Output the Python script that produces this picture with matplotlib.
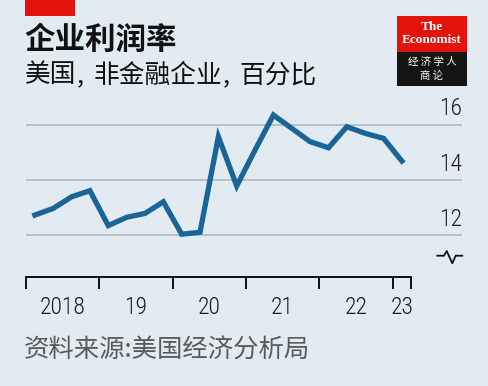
#!/usr/bin/env python3
import numpy as np
import matplotlib
matplotlib.use('Agg')
import matplotlib.pyplot as plt
import matplotlib.patches as mplpatches
from matplotlib.lines import Line2D

'''
US non-financial corporate profit margin, quarterly, per cent
'''

# quarterly values, 2018 Q1 .. 2023 Q1
years = [2018, 2019, 2020, 2021, 2022, 2023]
quarters_per_year = 4
margin = [12.73, 12.97, 13.39, 13.61, 12.35, 12.65, 12.79, 13.21, 12.04, 12.11,
          15.56, 13.78, 15.08, 16.34, 15.86, 15.38, 15.16, 15.92, 15.68, 15.50,
          14.68]
y_ticks = [12, 14, 16]
x_labels = ['2018', '19', '20', '21', '22', '23']

title = '企业利润率'
subtitle = '美国,非金融企业,百分比'
source = '资料来源:美国经济分析局'

bg = '#e1ebf1'
blue = '#1b6498'
grid = '#b4bdc3'
red = '#e3120b'

cjk = ['Noto Sans CJK SC', 'DejaVu Sans']
num = ['Roboto Condensed', 'Liberation Sans Narrow', 'DejaVu Sans']

W, H = 488, 386
fig = plt.figure(figsize=(W / 100, H / 100), dpi=100, facecolor=bg)


def fx(px):
    return px / W


def fy(py):
    return 1 - py / H


# axes box in pixels
left, right, bottom, top = 25.7, 462, 276.7, 100
ax = fig.add_axes([fx(left), fy(bottom), fx(right - left), (bottom - top) / H])
ax.set_facecolor(bg)

x0 = years[0]
xvals = x0 + (np.arange(len(margin)) + 0.5) / quarters_per_year
x_end = x0 + len(margin) / quarters_per_year
ax.set_xlim(x0, x0 + (right - left) / 73.4)
ax.set_ylim(12 - (bottom - 235.3) / 27.7, 12 + (235.3 - top) / 27.7)

for v in y_ticks:
    ax.axhline(v, color=grid, lw=1.3, zorder=1)
    ax.annotate(str(v), xy=(1, v), xycoords=('axes fraction', 'data'),
                xytext=(0, 3), textcoords='offset points',
                ha='right', va='bottom', fontsize=17, family=num,
                weight='light', color='#1a1a1a')

ax.plot(xvals, margin, color=blue, lw=3.8, solid_joinstyle='miter', zorder=3)

for s in ['top', 'right', 'left']:
    ax.spines[s].set_visible(False)
ax.spines['bottom'].set_bounds(x0, x_end)
ax.spines['bottom'].set_linewidth(1.3)
ax.set_yticks([])
ax.set_xticks(years + [x_end])
ax.set_xticklabels([])
ax.tick_params(axis='x', which='major', direction='out', length=8.5, width=1.3)
centers = [y + 0.5 for y in years[:-1]] + [years[-1] + 0.125]
ax.set_xticks(centers, minor=True)
ax.set_xticklabels(x_labels, minor=True, fontsize=17, family=num,
                   weight='light', color='#1a1a1a')
ax.tick_params(axis='x', which='minor', length=0, pad=14)

# axis break symbol
bx = [437.3, 444, 446.7, 452.3, 455.7, 462.3]
by = [255.7, 255.7, 251, 263.3, 255.7, 255.7]
fig.add_artist(Line2D([fx(v) for v in bx], [fy(v) for v in by],
                      color='#111111', lw=1.3, transform=fig.transFigure))

# header bar
fig.add_artist(mplpatches.Rectangle((fx(25), fy(16)), fx(50), 16 / H,
                                    color=red, transform=fig.transFigure, lw=0))

fig.text(fx(24), fy(39.5), title, fontsize=22, weight='bold', family=cjk,
         ha='left', va='center', color='#111111')

# subtitle, drawn piece by piece so the commas get a wider slot
sub_size = 18.5
em = sub_size * 100 / 72
xpos = 25
for piece in subtitle.replace(',', '\n,\n').split('\n'):
    fig.text(fx(xpos), fy(75.5), piece, fontsize=sub_size, family=cjk,
             ha='left', va='center', color='#111111')
    xpos += 17.5 if piece == ',' else em * len(piece)

fig.text(fx(24), fy(351), source, fontsize=18.3, family=cjk,
         ha='left', va='center', color='#5a5a5a')

# logo
fig.add_artist(mplpatches.Rectangle((fx(397), fy(52)), fx(70), 36 / H,
                                    color=red, transform=fig.transFigure, lw=0))
fig.add_artist(mplpatches.Rectangle((fx(397), fy(86)), fx(70), 34 / H,
                                    color='#141414', transform=fig.transFigure, lw=0))
fig.text(fx(432), fy(27), 'The', fontsize=9.5, weight='bold', family='Liberation Serif',
         ha='center', va='center', color='white')
fig.text(fx(432), fy(40), 'Economist', fontsize=9.5, weight='bold',
         family='Liberation Serif', ha='center', va='center', color='white')
fig.text(fx(432), fy(62), '经 济 学 人', fontsize=7.5, family=cjk,
         ha='center', va='center', color='white')
fig.text(fx(432), fy(76), '商 论', fontsize=7.5, family=cjk,
         ha='center', va='center', color='white')

fig.savefig('out.png', dpi=100, facecolor=bg)
